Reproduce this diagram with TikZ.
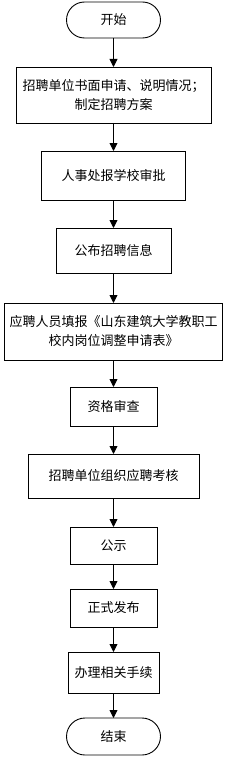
\documentclass[tikz,border=0pt]{standalone}
\usepackage{fontspec}
\setmainfont{Noto Sans CJK SC}
\usetikzlibrary{shapes.misc, arrows.meta, positioning}

\begin{document}
\begin{tikzpicture}[
  block/.style={rectangle, draw=black, line width=0.9pt, align=center, inner sep=0pt, outer sep=0pt, font=\fontsize{13pt}{19pt}\selectfont},
  term/.style={rounded rectangle, draw=black, line width=0.9pt, inner sep=0pt, outer sep=0pt, minimum width=94pt, minimum height=36pt, font=\fontsize{13pt}{19pt}\selectfont},
  arrow/.style={line width=0.9pt,-{Triangle[length=8pt,width=8pt]}}]

\useasboundingbox (0,0) rectangle (227pt,-757pt);

\node[term] (start) at (113.5pt,-20pt) {开始};
\node[block, below=29pt of start, minimum width=195pt, minimum height=56pt] (apply) {招聘单位书面申请、说明情况；\\制定招聘方案};
\node[block, below=28pt of apply, minimum width=144pt, minimum height=49pt] (approve) {人事处报学校审批};
\node[block, below=28pt of approve, minimum width=115pt, minimum height=45pt] (publish) {公布招聘信息};
\node[block, below=30pt of publish, minimum width=218pt, minimum height=57pt] (form) {应聘人员填报《山东建筑大学教职工\\校内岗位调整申请表》};
\node[block, below=27pt of form, minimum width=87pt, minimum height=39pt] (review) {资格审查};
\node[block, below=28pt of review, minimum width=171pt, minimum height=44pt] (assess) {招聘单位组织应聘考核};
\node[block, below=29pt of assess, minimum width=87pt, minimum height=37pt] (notice) {公示};
\node[block, below=25pt of notice, minimum width=87pt, minimum height=38pt] (issue) {正式发布};
\node[block, below=25pt of issue, minimum width=91pt, minimum height=41pt] (procedure) {办理相关手续};
\node[term, below=25pt of procedure, minimum height=37pt] (finish) {结束};

\draw[arrow] (start) -- (apply);
\draw[arrow] (apply) -- (approve);
\draw[arrow] (approve) -- (publish);
\draw[arrow] (publish) -- (form);
\draw[arrow] (form) -- (review);
\draw[arrow] (review) -- (assess);
\draw[arrow] (assess) -- (notice);
\draw[arrow] (notice) -- (issue);
\draw[arrow] (issue) -- (procedure);
\draw[arrow] (procedure) -- (finish);

\end{tikzpicture}
\end{document}
